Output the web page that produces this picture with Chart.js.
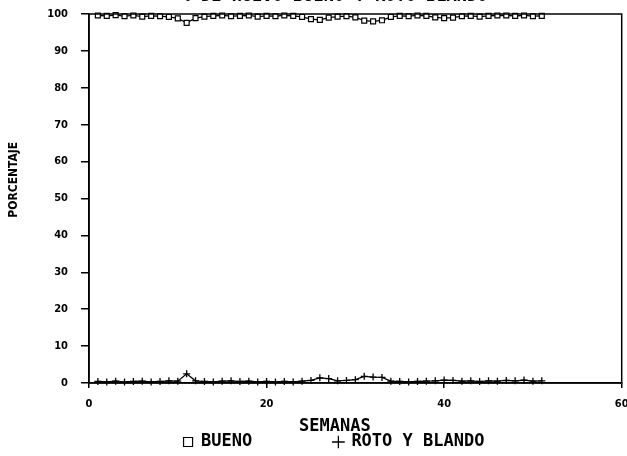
<!DOCTYPE html>
<html><head><meta charset="utf-8">
<script src="https://cdn.jsdelivr.net/npm/chart.js@4"></script>
<style>
html,body{margin:0;padding:0;background:#fff;}
#wrap{position:relative;width:627px;height:456px;overflow:hidden;background:#fff;}
#wrap canvas{position:absolute;left:0;top:-16px;}
</style></head><body>
<div id="wrap"><canvas id="c" width="627" height="480" style="width:627px;height:480px"></canvas></div>
<script>
const chartTitle = '% DE HUEVO BUENO Y ROTO BLANDO';
const xTitle = 'SEMANAS';
const yTitle = 'PORCENTAJE';
const seriesNames = ['BUENO', 'ROTO Y BLANDO'];
const weeks = [1,2,3,4,5,6,7,8,9,10,11,12,13,14,15,16,17,18,19,20,21,22,23,24,25,26,27,28,29,30,31,32,33,34,35,36,37,38,39,40,41,42,43,44,45,46,47,48,49,50,51];
const bueno = [99.6,99.5,99.7,99.4,99.6,99.3,99.5,99.4,99.2,98.8,
               97.6,98.9,99.3,99.5,99.6,99.4,99.5,99.6,99.3,99.5,
               99.4,99.6,99.5,99.2,98.6,98.4,99.0,99.3,99.4,99.1,
               98.2,98.0,98.3,99.2,99.5,99.4,99.6,99.5,99.1,98.9,
               99.0,99.4,99.5,99.3,99.5,99.6,99.6,99.5,99.6,99.4,99.5];
const roto = [0.4,0.3,0.5,0.3,0.4,0.5,0.3,0.4,0.6,0.5,
              2.5,0.6,0.4,0.3,0.5,0.6,0.4,0.5,0.3,0.4,
              0.3,0.4,0.3,0.5,0.7,1.4,1.2,0.6,0.7,0.9,
              1.8,1.6,1.5,0.5,0.4,0.3,0.4,0.5,0.6,0.8,
              0.7,0.5,0.6,0.4,0.6,0.5,0.7,0.6,0.8,0.5,0.6];
const xTicks = [0, 20, 40, 60];
const yTicks = [0, 10, 20, 30, 40, 50, 60, 70, 80, 90, 100];

const NARROW = "'Liberation Sans Narrow','DejaVu Sans Condensed','Liberation Sans',sans-serif";
const MONO = "'DejaVu Sans Mono','Liberation Mono',monospace";

const frame = {
  id: 'frame',
  afterDatasetsDraw(chart) {
    const {ctx, chartArea: a} = chart;
    ctx.save();
    ctx.strokeStyle = '#000';
    ctx.lineWidth = 1.5;
    ctx.strokeRect(a.left, a.top, a.right - a.left, a.bottom - a.top);
    ctx.restore();
  }
};

const pts = arr => weeks.map((w, i) => ({x: w, y: arr[i]}));

new Chart(document.getElementById('c'), {
  type: 'line',
  data: {
    datasets: [
      {label: seriesNames[0], data: pts(bueno), borderColor: '#000', borderWidth: 1.3,
       pointStyle: 'rect', pointRadius: 3.5, pointBorderWidth: 1.2, pointBackgroundColor: '#fff',
       pointBorderColor: '#000', tension: 0, fill: false, clip: false},
      {label: seriesNames[1], data: pts(roto), borderColor: '#000', borderWidth: 1.3,
       pointStyle: 'cross', pointRadius: 3.5, pointBorderWidth: 1.3, pointBackgroundColor: '#000',
       pointBorderColor: '#000', tension: 0, fill: false, clip: false}
    ]
  },
  options: {
    responsive: false,
    animation: false,
    devicePixelRatio: 1,
    layout: {padding: {top: 0, left: 46, right: 5, bottom: 3.5}},
    scales: {
      x: {
        type: 'linear', min: xTicks[0], max: xTicks[xTicks.length - 1],
        afterBuildTicks(s) { s.ticks = xTicks.map(v => ({value: v})); },
        ticks: {color: '#000', font: {family: NARROW, size: 11, weight: 'bold'}, padding: 10, maxRotation: 0},
        grid: {drawOnChartArea: false, drawTicks: true, tickLength: 5, color: '#000', lineWidth: 1.5},
        border: {display: true, color: '#000', width: 1.5},
        title: {display: true, text: xTitle + '    ', color: '#000',
                font: {family: MONO, size: 17, weight: 'bold', lineHeight: 1.2},
                padding: {top: 0, bottom: -13.5}},
        afterFit(s) { s.height = 40.5; s.paddingLeft = 0; s.paddingRight = 0; }
      },
      y: {
        min: yTicks[0], max: yTicks[yTicks.length - 1],
        afterBuildTicks(s) { s.ticks = yTicks.map(v => ({value: v})); },
        ticks: {color: '#000', font: {family: NARROW, size: 11, weight: 'bold'}, padding: 13},
        grid: {drawOnChartArea: false, drawTicks: true, tickLength: 8, color: '#000', lineWidth: 1.5},
        border: {display: true, color: '#000', width: 1.5},
        title: {display: true, text: ' '.repeat(10) + yTitle, color: '#000',
                font: {family: NARROW, size: 12, weight: 'bold', lineHeight: 1.2},
                padding: {top: -39.2, bottom: 0}},
        afterFit(s) { s.width = 43; }
      }
    },
    plugins: {
      title: {display: true, text: chartTitle, color: '#000',
              font: {family: MONO, size: 17, weight: 'bold', lineHeight: 1.2},
              padding: {top: 2.5, bottom: 7.1}},
      legend: {
        position: 'bottom',
        labels: {
          usePointStyle: true, boxWidth: 9, boxHeight: 9, padding: 10, color: '#000',
          font: {family: MONO, size: 17, weight: 'bold'},
          generateLabels(chart) {
            const items = Chart.defaults.plugins.legend.labels.generateLabels(chart);
            items[0].text = items[0].text + ' '.repeat(7);
            return items;
          }
        }
      },
      tooltip: {enabled: false}
    }
  },
  plugins: [frame]
});
</script>
</body></html>
